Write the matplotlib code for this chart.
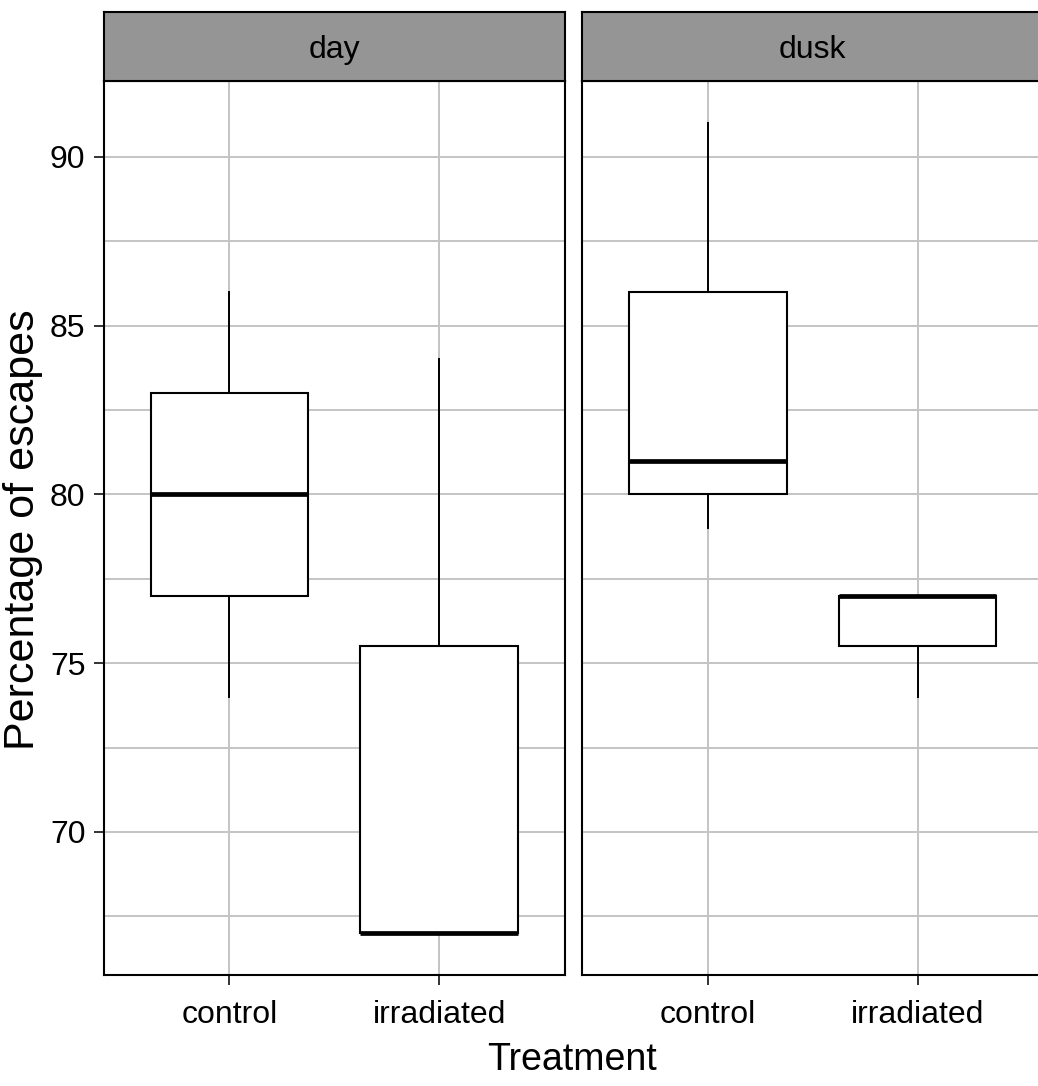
import matplotlib.pyplot as plt

plt.rcParams['font.family'] = ['Liberation Sans', 'DejaVu Sans']

# five-number summaries per light period and treatment
periods = ["day", "dusk"]
treatments = ["control", "irradiated"]
whisker_low = [[74, 67], [79, 74]]
q1 = [[77, 67], [80, 75.5]]
median = [[80, 67], [81, 77]]
q3 = [[83, 75.5], [86, 77]]
whisker_high = [[86, 84], [91, 77]]

W, H = 1038, 1086
fig = plt.figure(figsize=(W / 100, H / 100), dpi=100)


def box_px(left, top, right, bottom):
    return [left / W, 1 - bottom / H, (right - left) / W, (bottom - top) / H]


panels = [(103.5, 81, 565, 975), (582, 81, 1043.5, 975)]
grid_col = "#c4c4c4"

for i, period in enumerate(periods):
    l, t, r, b = panels[i]
    ax = fig.add_axes(box_px(l, t, r, b))

    stats = []
    for j, name in enumerate(treatments):
        stats.append({
            "label": name,
            "whislo": whisker_low[i][j],
            "q1": q1[i][j],
            "med": median[i][j],
            "q3": q3[i][j],
            "whishi": whisker_high[i][j],
        })

    ax.bxp(stats, positions=[1, 2], widths=0.75, showfliers=False, showcaps=False,
           patch_artist=True,
           boxprops=dict(facecolor="white", edgecolor="black", linewidth=1.5),
           whiskerprops=dict(color="black", linewidth=1.4),
           medianprops=dict(color="black", linewidth=3.4, solid_capstyle="butt"),
           zorder=3)

    ax.set_xlim(0.4, 2.6)
    ax.set_ylim(65.76, 92.25)
    ax.set_yticks([70, 75, 80, 85, 90])
    ax.set_yticks([67.5, 72.5, 77.5, 82.5, 87.5], minor=True)
    ax.set_xticks([1, 2])
    ax.set_xticklabels(treatments)

    ax.set_axisbelow(True)
    ax.grid(which="major", color=grid_col, linewidth=1.4)
    ax.grid(which="minor", axis="y", color=grid_col, linewidth=1.4)

    ax.tick_params(which="major", length=7, width=1.4, color="#333333",
                   labelsize=23, labelcolor="black", pad=6)
    ax.tick_params(axis="x", pad=11)
    ax.tick_params(which="minor", length=0)
    if i > 0:
        ax.tick_params(axis="y", length=0, labelleft=False)

    for sp in ax.spines.values():
        sp.set_linewidth(1.5)
        sp.set_color("black")

    # facet strip on top of each panel
    sax = fig.add_axes(box_px(l, 11.5, r, t))
    sax.set_facecolor("#959595")
    sax.set_xticks([])
    sax.set_yticks([])
    for sp in sax.spines.values():
        sp.set_linewidth(1.5)
        sp.set_color("black")
    sax.text(0.5, 0.45, period, ha="center", va="center", fontsize=23,
             transform=sax.transAxes)

fig.text(572 / W, 1 - 1060 / H, "Treatment", ha="center", va="center", fontsize=27)
fig.text(3 / W, 1 - 530 / H, "Percentage of escapes", ha="left", va="center",
         rotation=90, fontsize=31)

fig.savefig("out.png", dpi=100)
